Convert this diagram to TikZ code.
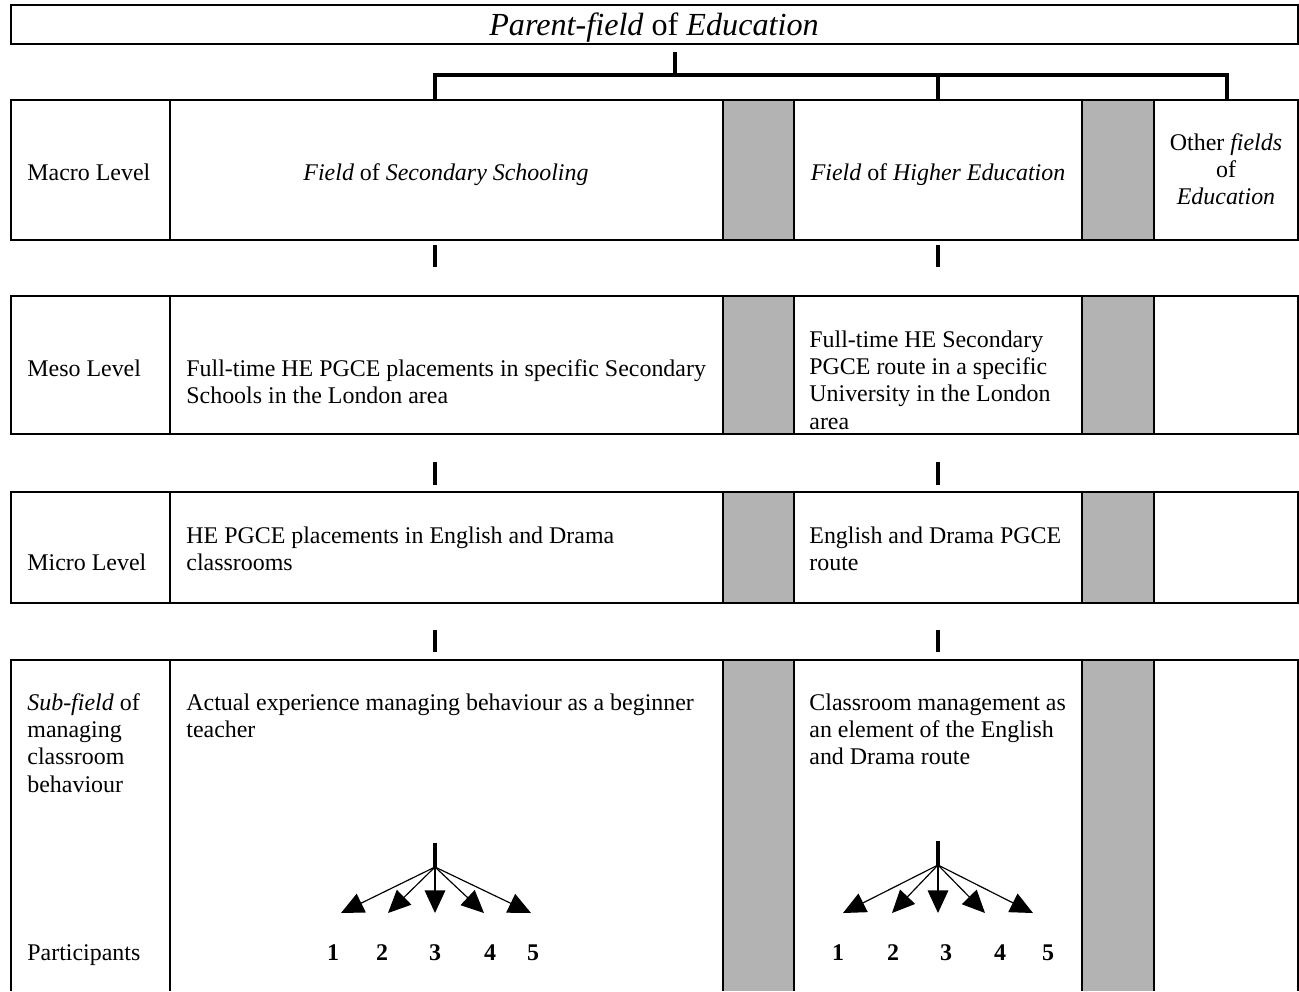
\documentclass[tikz,border=0pt]{standalone}
\usepackage{fontspec}
\setmainfont{Liberation Serif}
\usetikzlibrary{arrows.meta}
\definecolor{band}{RGB}{179,179,179}
% stacked lines whose baseline is the first line's baseline
\newcommand\leftlines[1]{\begin{tabular}[t]{@{}l@{}}#1\end{tabular}}
\newcommand\midlines[1]{\begin{tabular}[t]{@{}c@{}}#1\end{tabular}}
\begin{document}
\begin{tikzpicture}[x=0.51pt,y=-0.51pt,
  frame/.style={line width=1pt},
  shade/.style={fill=band},
  link/.style={line width=1.6pt},
  txt/.style={inner sep=0pt, font=\fontsize{12.2}{14}\selectfont, anchor=base west},
  ctxt/.style={inner sep=0pt, font=\fontsize{12.2}{14}\selectfont, anchor=base},
  num/.style={inner sep=0pt, font=\fontsize{12.2}{14}\selectfont\bfseries, anchor=base},
  fan/.style={line width=0.6pt, -{Triangle[length=11.5pt,width=10.5pt]}},
]
\useasboundingbox (0,0) rectangle (1299,991);

% title bar
\draw[frame] (11,5) rectangle (1298,44);
\node[inner sep=0pt, anchor=base, font=\fontsize{16.4}{19}\selectfont] (title) at (654,35)
  {\textit{Parent-field} of \textit{Education}};

% bracket from the parent field down to the three fields
\coordinate (stemtop) at (675,52);
\coordinate (hub) at (675,75);
\coordinate (dropA) at (435,100);
\coordinate (dropB) at (938,100);
\coordinate (dropC) at (1227,100);
\draw[link] (stemtop) -- (hub);
\draw[link] (dropA) |- (hub) -| (dropC);
\draw[link] (dropB) -- (dropB |- hub);

% first three rows: shaded separator columns, then the ruling
\foreach \t/\b in {100/240,296/434,492/603} {
  \fill[shade] (723,\t) rectangle (794,\b);
  \fill[shade] (1082,\t) rectangle (1154,\b);
  \draw[frame] (11,\t) rectangle (1298,\b);
  \foreach \x in {170,723,794,1082,1154} \draw[frame] (\x,\t) -- (\x,\b);
}
% open last row
\fill[shade] (723,660) rectangle (794,991);
\fill[shade] (1082,660) rectangle (1154,991);
\draw[frame] (11,991) -- (11,660) -- (1298,660) -- (1298,991);
\foreach \x in {170,723,794,1082,1154} \draw[frame] (\x,660) -- (\x,991);

% short links between the rows
\foreach \x [count=\i] in {435,938} {
  \foreach \a/\b [count=\j] in {245/267,462/485,630/652} {
    \coordinate (up\i\j) at (\x,\a);
    \coordinate (dn\i\j) at (\x,\b);
    \draw[link] (up\i\j) -- (dn\i\j);
  }
}

% macro level
\node[txt] (macro) at (27,180) {Macro Level};
\node[ctxt] (secfield) at (446,180) {\textit{Field} of \textit{Secondary Schooling}};
\node[ctxt] (hefield) at (938,180) {\textit{Field} of \textit{Higher Education}};
\node[ctxt] (other) at (1226,150) {\midlines{Other \textit{fields}\\ of\\ \textit{Education}}};

% meso level
\node[txt] (meso) at (27,376) {Meso Level};
\node[txt] (secmeso) at (186,376) {\leftlines{Full-time HE PGCE placements in specific Secondary\\ Schools in the London area}};
\node[txt] (hemeso) at (809,347) {\leftlines{Full-time HE Secondary\\ PGCE route in a specific\\ University in the London\\ area}};

% micro level
\node[txt] (micro) at (27,570) {Micro Level};
\node[txt] (secmicro) at (186,543) {\leftlines{HE PGCE placements in English and Drama\\ classrooms}};
\node[txt] (hemicro) at (809,543) {\leftlines{English and Drama PGCE\\ route}};

% sub-field
\node[txt] (sub) at (27,710) {\leftlines{\textit{Sub-field} of\\ managing\\ classroom\\ behaviour}};
\node[txt] (part) at (27,960) {Participants};
\node[txt] (secsub) at (186,710) {\leftlines{Actual experience managing behaviour as a beginner\\ teacher}};
\node[txt] (hesub) at (809,710) {\leftlines{Classroom management as\\ an element of the English\\ and Drama route}};

% participant fans
\coordinate (lstem) at (435,843);
\coordinate (lhub) at (435,867);
\draw[link] (lstem) -- (lhub);
\foreach \tx [count=\k] in {341,388,435,484,531} {
  \coordinate (lt\k) at (\tx,913);
  \draw[fan] (lhub) -- (lt\k);
}
\foreach \nx [count=\k] in {333,382,435,490,533}
  \node[num] (ln\k) at (\nx,960) {\k};

\coordinate (rstem) at (938,841);
\coordinate (rhub) at (938,865);
\draw[link] (rstem) -- (rhub);
\foreach \tx [count=\k] in {843,892,938,985,1033} {
  \coordinate (rt\k) at (\tx,913);
  \draw[fan] (rhub) -- (rt\k);
}
\foreach \nx [count=\k] in {838,893,946,1000,1048}
  \node[num] (rn\k) at (\nx,960) {\k};
\end{tikzpicture}
\end{document}
